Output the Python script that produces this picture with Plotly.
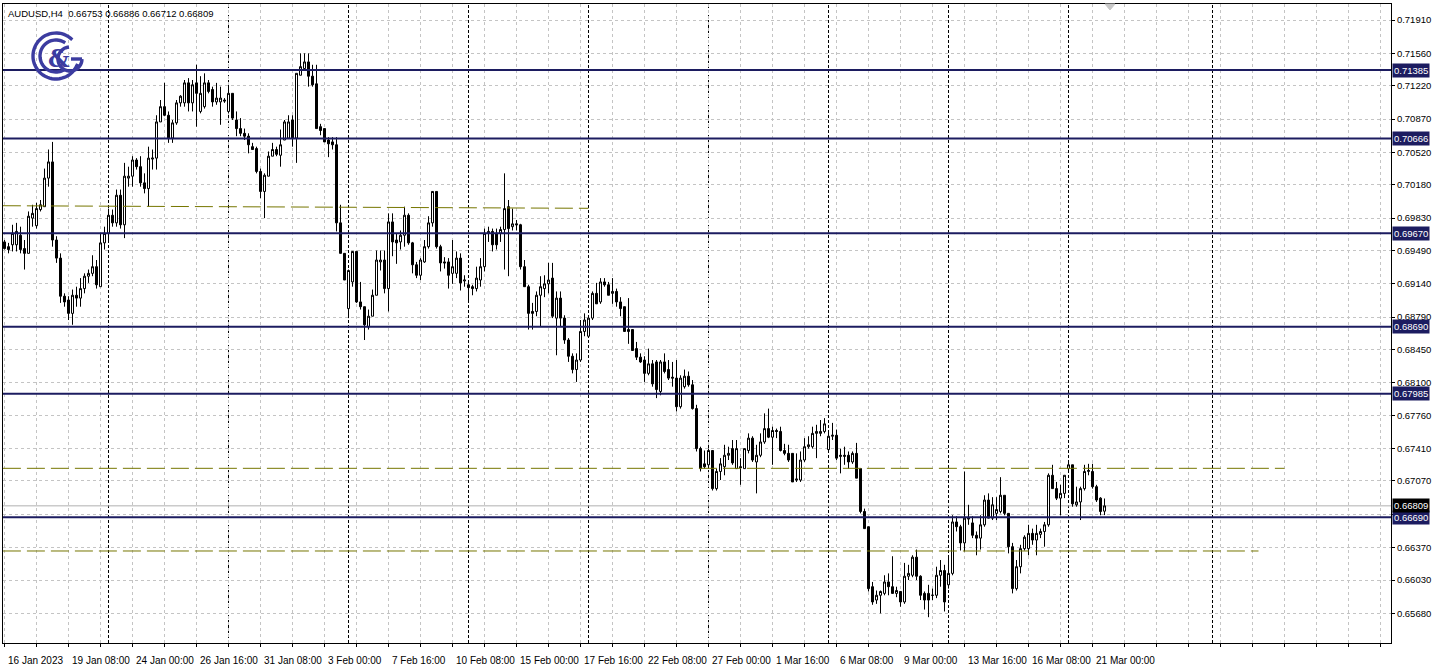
import math
import plotly.graph_objects as go

# ---------------- data (AUDUSD H4, bar numbers counted from 16 Jan 2023 00:00) ----------------
first_bar = 4
open_ = [.6958, .6953, .6955, .6955, .6965, .6951, .6946, .6983, .6975, .6992,
         .6995, .7025, .7042, .6960, .6941, .6901, .6897, .6883, .6902, .6899,
         .6909, .6922, .6925, .6932, .6911, .6957, .6967, .6986, .6978, .7007,
         .6976, .7025, .7027, .7044, .7037, .7020, .7014, .7045, .7046, .7084,
         .7100, .7091, .7067, .7083, .7104, .7104, .7125, .7104, .7125, .7095,
         .7100, .7125, .7118, .7105, .7105, .7107, .7095, .7114, .7086, .7077,
         .7072, .7069, .7058, .7056, .7032, .7011, .7027, .7048, .7055, .7049,
         .7065, .7067, .7086, .7067, .7133, .7140, .7147, .7132, .7124, .7079,
         .7077, .7065, .7063, .7060, .6978, .6946, .6888, .6916, .6948, .6895,
         .6890, .6869, .6880, .6902, .6937, .6939, .6909, .6979, .6960, .6958,
         .6965, .6986, .6957, .6934, .6923, .6937, .6953, .6978, .7011, .6953,
         .6937, .6937, .6925, .6925, .6941, .6917, .6913, .6911, .6909, .6918,
         .6932, .6967, .6969, .6967, .6967, .6971, .6995, .6974, .6977, .6976,
         .6932, .6911, .6885, .6885, .6902, .6909, .6914, .6920, .6878, .6899,
         .6878, .6855, .6838, .6824, .6834, .6864, .6859, .6878, .6904, .6895,
         .6916, .6913, .6904, .6906, .6895, .6890, .6866, .6866, .6846, .6837,
         .6834, .6820, .6830, .6832, .6801, .6832, .6824, .6816, .6815, .6785,
         .6806, .6817, .6808, .6783, .6741, .6725, .6724, .6739, .6699, .6717,
         .6722, .6734, .6741, .6720, .6722, .6720, .6739, .6752, .6727, .6734,
         .6748, .6762, .6753, .6760, .6759, .6739, .6736, .6736, .6708, .6708,
         .6729, .6743, .6743, .6757, .6757, .6759, .6740, .6754, .6755, .6734,
         .6734, .6734, .6727, .6736, .6720, .6675, .6659, .6596, .6582, .6587,
         .6589, .6601, .6596, .6589, .6591, .6580, .6607, .6608, .6627, .6607,
         .6589, .6589, .6587, .6587, .6608, .6613, .6598, .6610, .6664, .6659,
         .6642, .6667, .6663, .6650, .6647, .6661, .6687, .6668, .6673, .6675,
         .6692, .6673, .6638, .6594, .6617, .6636, .6636, .6652, .6645, .6651,
         .6654, .6661, .6713, .6699, .6689, .6694, .6720, .6724, .6682, .6685,
         .6699, .6717, .6717, .6701, .6689, .66753]
high = [.6960, .6957, .6976, .6978, .6974, .6960, .6990, .6997, .6999, .7002,
        .7035, .7055, .7063, .6964, .6946, .6904, .6901, .6908, .6911, .6920,
        .6925, .6929, .6944, .6939, .6967, .6974, .6993, .6992, .7013, .7013,
        .7041, .7037, .7048, .7046, .7048, .7030, .7058, .7055, .7091, .7107,
        .7125, .7095, .7086, .7107, .7112, .7128, .7130, .7128, .7144, .7132,
        .7135, .7128, .7121, .7125, .7121, .7109, .7121, .7114, .7095, .7088,
        .7077, .7072, .7062, .7058, .7035, .7030, .7053, .7062, .7058, .7076,
        .7086, .7091, .7091, .7135, .7156, .7156, .7156, .7144, .7144, .7082,
        .7077, .7068, .7068, .7068, .6997, .6946, .6929, .6948, .6948, .6916,
        .6890, .6887, .6908, .6949, .6949, .6949, .6988, .6988, .6967, .6970,
        .6995, .6988, .6958, .6937, .6941, .6960, .6985, .7011, .7011, .6955,
        .6942, .6941, .6960, .6948, .6946, .6923, .6918, .6913, .6932, .6941,
        .6972, .6974, .6972, .6972, .6974, .7030, .7002, .6993, .6981, .6977,
        .6939, .6913, .6894, .6906, .6922, .6923, .6936, .6936, .6906, .6906,
        .6881, .6857, .6841, .6841, .6876, .6883, .6880, .6906, .6915, .6920,
        .6920, .6916, .6920, .6909, .6900, .6890, .6899, .6866, .6853, .6841,
        .6838, .6846, .6834, .6834, .6834, .6841, .6834, .6832, .6834, .6818,
        .6824, .6822, .6813, .6787, .6743, .6739, .6741, .6739, .6720, .6731,
        .6745, .6743, .6750, .6750, .6731, .6741, .6757, .6754, .6745, .6757,
        .6778, .6783, .6764, .6762, .6764, .6746, .6745, .6736, .6736, .6738,
        .6752, .6754, .6764, .6766, .6771, .6773, .6759, .6768, .6761, .6741,
        .6743, .6738, .6738, .6747, .6720, .6678, .6659, .6601, .6592, .6592,
        .6608, .6610, .6628, .6596, .6591, .6621, .6619, .6629, .6635, .6608,
        .6591, .6598, .6594, .6617, .6624, .6619, .6628, .6671, .6670, .6661,
        .6717, .6682, .6670, .6654, .6671, .6692, .6694, .6690, .6690, .6711,
        .6692, .6673, .6642, .6624, .6640, .6650, .6661, .6657, .6661, .6657,
        .6664, .6715, .6724, .6706, .6703, .6713, .6727, .6724, .6701, .6701,
        .6724, .6725, .6725, .6703, .6690, .66886]
low = [.6950, .6946, .6948, .6948, .6946, .6929, .6946, .6974, .6972, .6990,
       .6995, .7016, .6953, .6936, .6894, .6890, .6876, .6871, .6890, .6890,
       .6904, .6915, .6922, .6909, .6911, .6950, .6960, .6974, .6974, .6972,
       .6962, .7016, .7016, .7034, .7016, .7009, .6995, .7034, .7034, .7084,
       .7090, .7062, .7062, .7081, .7100, .7100, .7095, .7095, .7079, .7093,
       .7098, .7114, .7100, .7102, .7081, .7104, .7093, .7086, .7069, .7069,
       .7065, .7051, .7055, .7030, .7004, .6983, .7027, .7048, .7048, .7037,
       .7065, .7067, .7058, .7041, .7133, .7139, .7121, .7121, .7077, .7070,
       .7063, .7047, .7055, .6969, .6946, .6918, .6878, .6911, .6894, .6887,
       .6855, .6866, .6880, .6902, .6928, .6904, .6885, .6943, .6935, .6950,
       .6953, .6955, .6925, .6920, .6918, .6936, .6951, .6974, .6951, .6927,
       .6930, .6909, .6914, .6920, .6907, .6911, .6894, .6902, .6906, .6911,
       .6927, .6958, .6948, .6950, .6958, .6929, .6922, .6970, .6970, .6929,
       .6911, .6866, .6866, .6880, .6869, .6900, .6904, .6878, .6839, .6869,
       .6851, .6832, .6820, .6811, .6832, .6859, .6859, .6876, .6893, .6893,
       .6911, .6902, .6893, .6890, .6880, .6864, .6851, .6844, .6834, .6831,
       .6811, .6818, .6806, .6794, .6797, .6820, .6813, .6806, .6780, .6783,
       .6804, .6806, .6782, .6738, .6717, .6720, .6720, .6697, .6697, .6708,
       .6713, .6729, .6724, .6720, .6703, .6720, .6736, .6727, .6694, .6732,
       .6746, .6752, .6724, .6752, .6738, .6734, .6727, .6706, .6706, .6706,
       .6727, .6741, .6741, .6731, .6754, .6757, .6740, .6750, .6729, .6715,
       .6724, .6720, .6725, .6710, .6673, .6657, .6591, .6577, .6578, .6568,
       .6587, .6587, .6589, .6585, .6575, .6578, .6603, .6606, .6603, .6582,
       .6572, .6564, .6582, .6584, .6596, .6570, .6594, .6608, .6654, .6634,
       .6633, .6661, .6647, .6629, .6635, .6659, .6668, .6666, .6666, .6673,
       .6671, .6631, .6589, .6592, .6610, .6634, .6629, .6640, .6629, .6647,
       .6638, .6659, .6699, .6687, .6671, .6689, .6718, .6680, .6680, .6666,
       .6697, .6713, .6699, .6685, .6671, .66712]
close = [.6951, .6950, .6967, .6969, .6950, .6946, .6985, .6988, .6993, .6997,
         .7025, .7042, .6960, .6941, .6901, .6895, .6883, .6902, .6899, .6909,
         .6922, .6925, .6932, .6913, .6957, .6967, .6986, .6978, .7007, .6976,
         .7027, .7027, .7044, .7037, .7020, .7014, .7046, .7046, .7084, .7100,
         .7091, .7067, .7083, .7104, .7111, .7125, .7104, .7123, .7114, .7114,
         .7125, .7116, .7105, .7109, .7109, .7106, .7114, .7088, .7077, .7072,
         .7069, .7060, .7055, .7032, .7011, .7028, .7048, .7055, .7050, .7060,
         .7084, .7084, .7067, .7135, .7142, .7147, .7132, .7123, .7077, .7075,
         .7063, .7061, .7060, .6978, .6946, .6918, .6928, .6948, .6895, .6890,
         .6871, .6880, .6902, .6939, .6939, .6909, .6979, .6958, .6957, .6965,
         .6986, .6957, .6934, .6923, .6939, .6953, .6978, .7011, .6953, .6936,
         .6936, .6923, .6932, .6941, .6915, .6918, .6910, .6909, .6920, .6932,
         .6967, .6969, .6955, .6955, .6971, .6993, .6972, .6977, .6976, .6932,
         .6911, .6883, .6883, .6902, .6911, .6914, .6918, .6880, .6899, .6878,
         .6855, .6838, .6824, .6834, .6864, .6876, .6878, .6904, .6893, .6916,
         .6913, .6902, .6906, .6895, .6888, .6864, .6864, .6844, .6837, .6832,
         .6820, .6830, .6809, .6803, .6832, .6822, .6815, .6815, .6785, .6815,
         .6817, .6808, .6783, .6741, .6720, .6722, .6739, .6699, .6717, .6725,
         .6734, .6736, .6726, .6741, .6721, .6741, .6752, .6729, .6734, .6748,
         .6762, .6753, .6760, .6759, .6739, .6736, .6729, .6706, .6709, .6729,
         .6743, .6745, .6757, .6759, .6759, .6767, .6754, .6755, .6731, .6733,
         .6733, .6727, .6736, .6710, .6675, .6657, .6594, .6580, .6587, .6591,
         .6601, .6596, .6589, .6592, .6580, .6607, .6610, .6627, .6607, .6587,
         .6582, .6582, .6587, .6608, .6613, .6580, .6610, .6664, .6659, .6642,
         .6668, .6668, .6650, .6647, .6661, .6687, .6668, .6682, .6677, .6692,
         .6673, .6638, .6594, .6617, .6636, .6648, .6652, .6645, .6652, .6654,
         .6661, .6713, .6699, .6689, .6694, .6713, .6724, .6683, .6685, .6699,
         .6717, .6718, .6701, .6687, .6675, .66809]
bars = list(range(first_bar, first_bar + len(close)))

price_ticks = [0.71910, 0.71560, 0.71220, 0.70870, 0.70520, 0.70180, 0.69830, 0.69490,
               0.69140, 0.68790, 0.68450, 0.68100, 0.67760, 0.67410, 0.67070, 0.66720,
               0.66370, 0.66030, 0.65680]
hidden_price_ticks = [0.66720]
bottom_price_label = 0.65340

x_label_bars = [4, 20, 36, 52, 68, 84, 100, 116, 132, 148, 164, 180, 196, 212, 228, 244, 260, 276]
x_labels = ["16 Jan 2023", "19 Jan 08:00", "24 Jan 00:00", "26 Jan 16:00", "31 Jan 08:00",
            "3 Feb 00:00", "7 Feb 16:00", "10 Feb 08:00", "15 Feb 00:00", "17 Feb 16:00",
            "22 Feb 08:00", "27 Feb 00:00", "1 Mar 16:00", "6 Mar 08:00", "9 Mar 00:00",
            "13 Mar 16:00", "16 Mar 08:00", "21 Mar 00:00"]
grid_bars = [4 + 8 * n for n in range(44)]
week_separator_bars = [30, 60, 90, 120, 150, 180, 210, 240, 270, 306]

levels = [0.71385, 0.70666, 0.69670, 0.68690, 0.67985, 0.66690]
olive_lines = [  # (bar start, bar end, price start, price end)
    (3.6, 150, 0.69960, 0.69933),
    (3.6, 324, 0.67203, 0.67203),
    (3.6, 317.5, 0.66335, 0.66335),
]
bid_price = 0.66809
header = "AUDUSD,H4\u00a0 0.66753 0.66886 0.66712 0.66809"

# ---------------- styles ----------------
NAVY = "#1c1c60"
OLIVE = "#767600"
GRID = "#c4c4c4"
FONT = "Liberation Sans"
X_RANGE = [3.625, 350.625]
Y_RANGE = [0.65369, 0.72078]

fig = go.Figure()
fig.add_trace(go.Candlestick(
    x=bars, open=open_, high=high, low=low, close=close,
    increasing=dict(line=dict(color="black", width=1), fillcolor="white"),
    decreasing=dict(line=dict(color="black", width=1), fillcolor="black"),
    whiskerwidth=0, hoverinfo="none", showlegend=False,
))

shapes = []
for b in week_separator_bars:
    shapes.append(dict(type="line", xref="x", yref="paper", x0=b, x1=b, y0=0, y1=1,
                       line=dict(color="black", width=1, dash="3px,2px"), layer="below"))
shapes.append(dict(type="line", xref="paper", yref="y", x0=0, x1=1, y0=bid_price, y1=bid_price,
                   line=dict(color="#b0b0b0", width=1), layer="below"))
for xs, xe, ys, ye in olive_lines:
    shapes.append(dict(type="line", xref="x", yref="y", x0=xs, x1=xe, y0=ys, y1=ye,
                       line=dict(color=OLIVE, width=1, dash="18px,6px"), layer="above"))
for lv in levels:
    shapes.append(dict(type="line", xref="paper", yref="y", x0=0, x1=1, y0=lv, y1=lv,
                       line=dict(color=NAVY, width=2), layer="above"))


# logo (decorative), pixel coordinates relative to the top-left corner of the plot
def arc_path(cx, cy, r, a0, a1, n=48):
    pts = []
    for j in range(n + 1):
        a = math.radians(a0 + (a1 - a0) * j / n)
        pts.append((cx + r * math.cos(a), -(cy - r * math.sin(a))))
    return "M " + " L ".join(f"{px:.1f},{py:.1f}" for px, py in pts)


LOGO = "#3c3ca0"
logo_paths = [
    arc_path(53, 52, 23, 45, 340),
    arc_path(53, 52, 16, 55, 305),
    arc_path(67, 55, 12, 95, 360),
    "M 68,-55 L 79,-55",
]
for p in logo_paths:
    shapes.append(dict(type="path", xref="paper", yref="paper", xsizemode="pixel",
                       ysizemode="pixel", xanchor=0, yanchor=1, path=p,
                       line=dict(color=LOGO, width=3.4)))
# chart shift marker
shapes.append(dict(type="path", xref="paper", yref="paper", xsizemode="pixel", ysizemode="pixel",
                   xanchor=(1110 - 3) / 1388, yanchor=1, path="M -5,0 L 5,0 L 0,-6 Z",
                   fillcolor="#c8c8c8", line=dict(color="#c8c8c8", width=1)))

annotations = []
for b, t in zip(x_label_bars, x_labels):
    annotations.append(dict(x=b, xref="x", y=0, yref="paper", xanchor="left", yanchor="top",
                            xshift=1, yshift=-10, text=t, showarrow=False,
                            font=dict(family=FONT, size=10, color="black")))
annotations.append(dict(x=1, xref="paper", y=bottom_price_label, yref="y", xanchor="left",
                        yanchor="middle", xshift=5, text=f"{bottom_price_label:.5f}",
                        showarrow=False, font=dict(family=FONT, size=9.5, color="black")))
for lv in levels:
    annotations.append(dict(x=1, xref="paper", y=lv, yref="y", xanchor="left", yanchor="middle",
                            xshift=1, text=f"{lv:.5f}", showarrow=False, bgcolor=NAVY,
                            borderpad=1, font=dict(family=FONT, size=9.5, color="white")))
annotations.append(dict(x=1, xref="paper", y=bid_price, yref="y", xanchor="left", yanchor="middle",
                        xshift=1, text=f"{bid_price:.5f}", showarrow=False, bgcolor="black",
                        borderpad=1, font=dict(family=FONT, size=9.5, color="white")))
annotations.append(dict(x=0, xref="paper", y=1, yref="paper", xanchor="left", yanchor="top",
                        xshift=3, yshift=-2, text=header, showarrow=False,
                        font=dict(family=FONT, size=9.5, color="black")))
annotations.append(dict(x=(59 - 3) / 1388, xref="paper", y=1 - (58 - 4) / 639, yref="paper",
                        xanchor="center", yanchor="middle", text="<b>&amp;</b>", showarrow=False,
                        font=dict(family="DejaVu Serif", size=24, color=LOGO)))

ticktext = ["" if v in hidden_price_ticks else f"{v:.5f}" for v in price_ticks]

fig.update_layout(
    width=1438, height=671,
    margin=dict(l=3, r=47, t=4, b=28, pad=0, autoexpand=False),
    paper_bgcolor="white", plot_bgcolor="white",
    font=dict(family=FONT, size=10, color="black"),
    shapes=shapes, annotations=annotations, showlegend=False,
    hovermode=False, boxgap=0.5, boxgroupgap=0,
    xaxis=dict(range=X_RANGE, rangeslider=dict(visible=False), tickmode="array",
               tickvals=grid_bars, ticktext=["" for _ in grid_bars], ticks="outside",
               ticklen=3, tickcolor="black", showgrid=True, gridcolor=GRID,
               griddash="3px,3px", gridwidth=1, showline=True, linecolor="black",
               linewidth=1, mirror=True, zeroline=False, fixedrange=True),
    yaxis=dict(range=Y_RANGE, side="right", tickmode="array", tickvals=price_ticks,
               ticktext=ticktext, ticks="outside", ticklen=3, tickcolor="black",
               showgrid=True, gridcolor=GRID, griddash="3px,3px", gridwidth=1,
               showline=True, linecolor="black", linewidth=1, mirror=True,
               zeroline=False, tickfont=dict(family=FONT, size=9.5), fixedrange=True),
)

fig.write_html("out.html", config={"displayModeBar": False},
               post_script="document.body.style.margin='0px';")
